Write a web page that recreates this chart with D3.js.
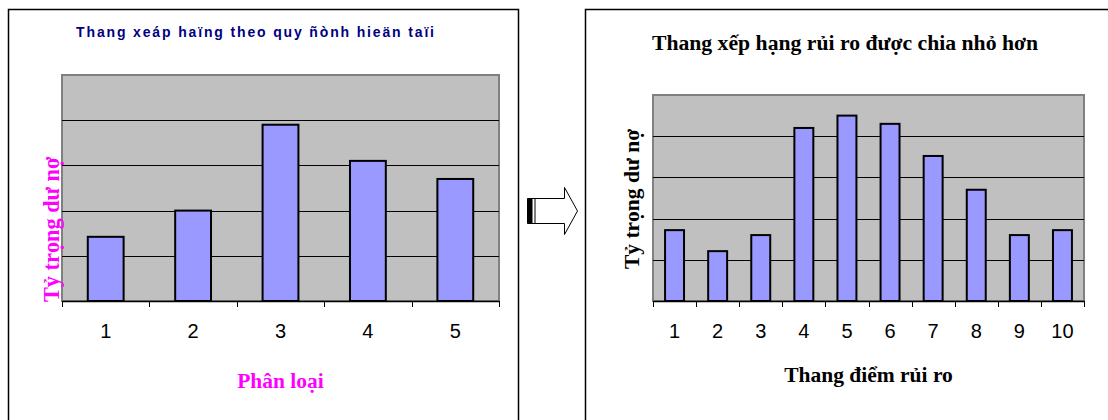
<!DOCTYPE html>
<html>
<head>
<meta charset="utf-8">
<script src="https://cdn.jsdelivr.net/npm/d3@7"></script>
<style>
  body { margin: 0; background: #ffffff; }
  svg { display: block; }
</style>
</head>
<body>
<svg id="chart" width="1108" height="420"></svg>
<script>
// Dữ liệu biểu đồ trái (thang hiện tại)
var leftTitle = "Thang xeáp haïng theo quy ñònh hieän taïi";
var leftCategories = ["1", "2", "3", "4", "5"];
var leftValues = [1.42, 2.0, 3.9, 3.1, 2.7];
var leftXLabel = "Phân loại";
var leftYLabel = "Tỷ trọng dư nợ";

// Dữ liệu biểu đồ phải (thang chia nhỏ)
var rightTitle = "Thang xếp hạng rủi ro được chia nhỏ hơn";
var rightCategories = ["1", "2", "3", "4", "5", "6", "7", "8", "9", "10"];
var rightValues = [1.72, 1.21, 1.6, 4.2, 4.5, 4.3, 3.52, 2.7, 1.6, 1.72];
var rightXLabel = "Thang điểm rủi ro";
var rightYLabel = "Tỷ trọng dư nợ";

var gridTicks = [1, 2, 3, 4];
var yMax = 5;

var svg = d3.select("#chart");

// Khung viền các panel
svg.append("path")
    .attr("d", "M8.5,420 V9.5 H518.5 V420")
    .attr("fill", "none").attr("stroke", "#000").attr("stroke-width", 1.5);
svg.append("path")
    .attr("d", "M585.5,420 V9.5 H1108")
    .attr("fill", "none").attr("stroke", "#000").attr("stroke-width", 1.5);

function drawPanel(cfg) {
    var x = d3.scaleBand().domain(cfg.categories).range([cfg.x0, cfg.x1]);
    var y = d3.scaleLinear().domain([0, yMax]).range([cfg.y1, cfg.y0]);
    var g = svg.append("g");

    // Nền xám của vùng vẽ
    g.append("rect")
        .attr("x", cfg.x0).attr("y", cfg.y0)
        .attr("width", cfg.x1 - cfg.x0).attr("height", cfg.y1 - cfg.y0)
        .attr("fill", "#c0c0c0")
        .attr("stroke", "#808080").attr("stroke-width", 2);

    // Đường lưới
    g.selectAll(".grid").data(gridTicks).enter().append("line")
        .attr("x1", cfg.x0).attr("x2", cfg.x1)
        .attr("y1", function(d) { return Math.round(y(d)) + 0.5; })
        .attr("y2", function(d) { return Math.round(y(d)) + 0.5; })
        .attr("stroke", "#000").attr("stroke-width", 1);

    // Cột
    var bw = x.bandwidth() * cfg.barRatio;
    g.selectAll(".bar").data(cfg.values).enter().append("rect")
        .attr("x", function(d, i) { return x(cfg.categories[i]) + (x.bandwidth() - bw) / 2; })
        .attr("y", function(d) { return y(d); })
        .attr("width", bw)
        .attr("height", function(d) { return y(0) - y(d); })
        .attr("fill", "#9999ff")
        .attr("stroke", "#000").attr("stroke-width", 2);

    // Trục hoành
    var axis = g.append("g")
        .attr("transform", "translate(0," + cfg.y1 + ")")
        .call(d3.axisBottom(x).tickSize(0).tickPadding(23))
        .attr("font-size", 20)
        .attr("font-family", "Arial, 'Liberation Sans', sans-serif");
    axis.select(".domain").attr("stroke", "#000").attr("stroke-width", 1.5);
    axis.selectAll("text").attr("fill", "#000");

    var edges = cfg.categories.map(function(c) { return x(c); }).concat([cfg.x1]);
    g.selectAll(".tk").data(edges).enter().append("line")
        .attr("x1", function(d) { return Math.round(d) + 0.5; })
        .attr("x2", function(d) { return Math.round(d) + 0.5; })
        .attr("y1", cfg.y1).attr("y2", cfg.y1 + 6)
        .attr("stroke", "#000").attr("stroke-width", 1);

    // Tiêu đề
    g.append("text")
        .attr("x", cfg.titleX).attr("y", cfg.titleY)
        .attr("text-anchor", "middle")
        .style("font-family", cfg.titleFont)
        .style("font-size", cfg.titleSize)
        .style("font-weight", "bold")
        .style("letter-spacing", cfg.titleSpacing)
        .attr("fill", cfg.titleColor)
        .text(cfg.title);

    // Nhãn trục X
    g.append("text")
        .attr("x", (cfg.x0 + cfg.x1) / 2).attr("y", cfg.xLabelY)
        .attr("text-anchor", "middle")
        .style("font-family", "'Liberation Serif', 'Times New Roman', serif")
        .style("font-size", "21.5px").style("font-weight", "bold")
        .attr("fill", cfg.labelColor)
        .text(cfg.xLabel);

    // Nhãn trục Y
    g.append("text")
        .attr("transform", "translate(" + cfg.yLabelX + "," + cfg.yLabelY + ") rotate(-90)")
        .attr("text-anchor", cfg.yLabelAnchor)
        .style("font-family", "'Liberation Serif', 'Times New Roman', serif")
        .style("font-size", cfg.yLabelSize).style("font-weight", "bold")
        .attr("fill", cfg.labelColor)
        .text(cfg.yLabel);
}

drawPanel({
    categories: leftCategories, values: leftValues,
    x0: 62, x1: 499, y0: 75, y1: 301, barRatio: 0.41,
    title: leftTitle, titleX: 256, titleY: 37,
    titleFont: "Arial, 'Liberation Sans', sans-serif", titleSize: "14px",
    titleSpacing: "1.85px", titleColor: "#000080",
    xLabel: leftXLabel, xLabelY: 388,
    yLabel: leftYLabel, yLabelX: 59, yLabelY: 302, yLabelAnchor: "start", yLabelSize: "22.3px",
    labelColor: "#ff00ff"
});

drawPanel({
    categories: rightCategories, values: rightValues,
    x0: 653, x1: 1084, y0: 95, y1: 301, barRatio: 0.44,
    title: rightTitle, titleX: 845, titleY: 50,
    titleFont: "'Liberation Serif', 'Times New Roman', serif", titleSize: "21.7px",
    titleSpacing: "0px", titleColor: "#000",
    xLabel: rightXLabel, xLabelY: 382,
    yLabel: rightYLabel, yLabelX: 639, yLabelY: 199, yLabelAnchor: "middle", yLabelSize: "21.5px",
    labelColor: "#000"
});

// Mũi tên chuyển giữa hai biểu đồ
var arrow = svg.append("g");
arrow.append("path")
    .attr("d", "M527.5,198.5 H564.5 V187.5 L577.5,211 L564.5,234.5 V223.5 H527.5 Z")
    .attr("fill", "#fff").attr("stroke", "#000").attr("stroke-width", 1);
arrow.append("rect")
    .attr("x", 527.5).attr("y", 198.5).attr("width", 5).attr("height", 25)
    .attr("fill", "#000");
arrow.append("line")
    .attr("x1", 535).attr("x2", 535).attr("y1", 198.5).attr("y2", 223.5)
    .attr("stroke", "#000").attr("stroke-width", 1);
</script>
</body>
</html>
